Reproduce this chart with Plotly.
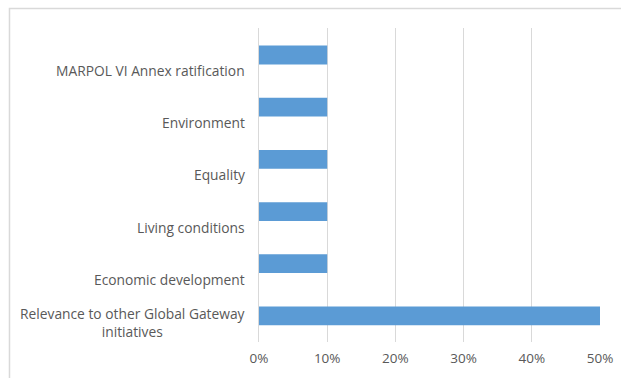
import plotly.graph_objects as go

categories = [
    "MARPOL VI Annex ratification",
    "Environment",
    "Equality",
    "Living conditions",
    "Economic development",
    "Relevance to other Global Gateway<br>initiatives",
]
values = [0.10, 0.10, 0.10, 0.10, 0.10, 0.50]
x_ticks = [0, 0.1, 0.2, 0.3, 0.4, 0.5]
x_tick_labels = ["0%", "10%", "20%", "30%", "40%", "50%"]

FONT = "Open Sans, Lato, sans-serif"
GREY = "#595959"
GRID = "#d9d9d9"

fig = go.Figure()
fig.add_trace(go.Bar(
    y=categories, x=values, orientation="h",
    marker=dict(color="#5B9BD5", line=dict(width=0)),
    width=0.36, hoverinfo="x+y",
))

annotations = []
for c in categories:
    annotations.append(dict(
        x=0, xref="paper", y=c, yref="y",
        text=c, showarrow=False, xanchor="right", yanchor="bottom",
        xshift=-12, yshift=-27, align="center",
        font=dict(family=FONT, size=13.8, color=GREY),
    ))

fig.update_layout(
    width=621, height=378,
    margin=dict(l=259, r=21, t=28, b=36, autoexpand=False),
    paper_bgcolor="white", plot_bgcolor="white",
    showlegend=False,
    annotations=annotations,
    shapes=[dict(
        type="rect", xref="paper", yref="paper",
        x0=-0.7317, x1=1.2, y0=-0.2, y1=1.0621,
        line=dict(color=GRID, width=1.5), fillcolor="rgba(0,0,0,0)",
        layer="below",
    )],
    xaxis=dict(
        range=[0, 0.5], tickvals=x_ticks, ticktext=x_tick_labels,
        showgrid=True, gridcolor=GRID, gridwidth=1, zeroline=False,
        showline=False, ticks="", ticklabelstandoff=6, automargin=False,
        tickfont=dict(family=FONT, size=13.5, color=GREY),
        fixedrange=True,
    ),
    yaxis=dict(
        autorange="reversed", showticklabels=False, ticks="",
        showgrid=False, zeroline=False, automargin=False,
        showline=True, linecolor=GRID, linewidth=1,
        fixedrange=True,
    ),
)

fig.write_html("out.html")
